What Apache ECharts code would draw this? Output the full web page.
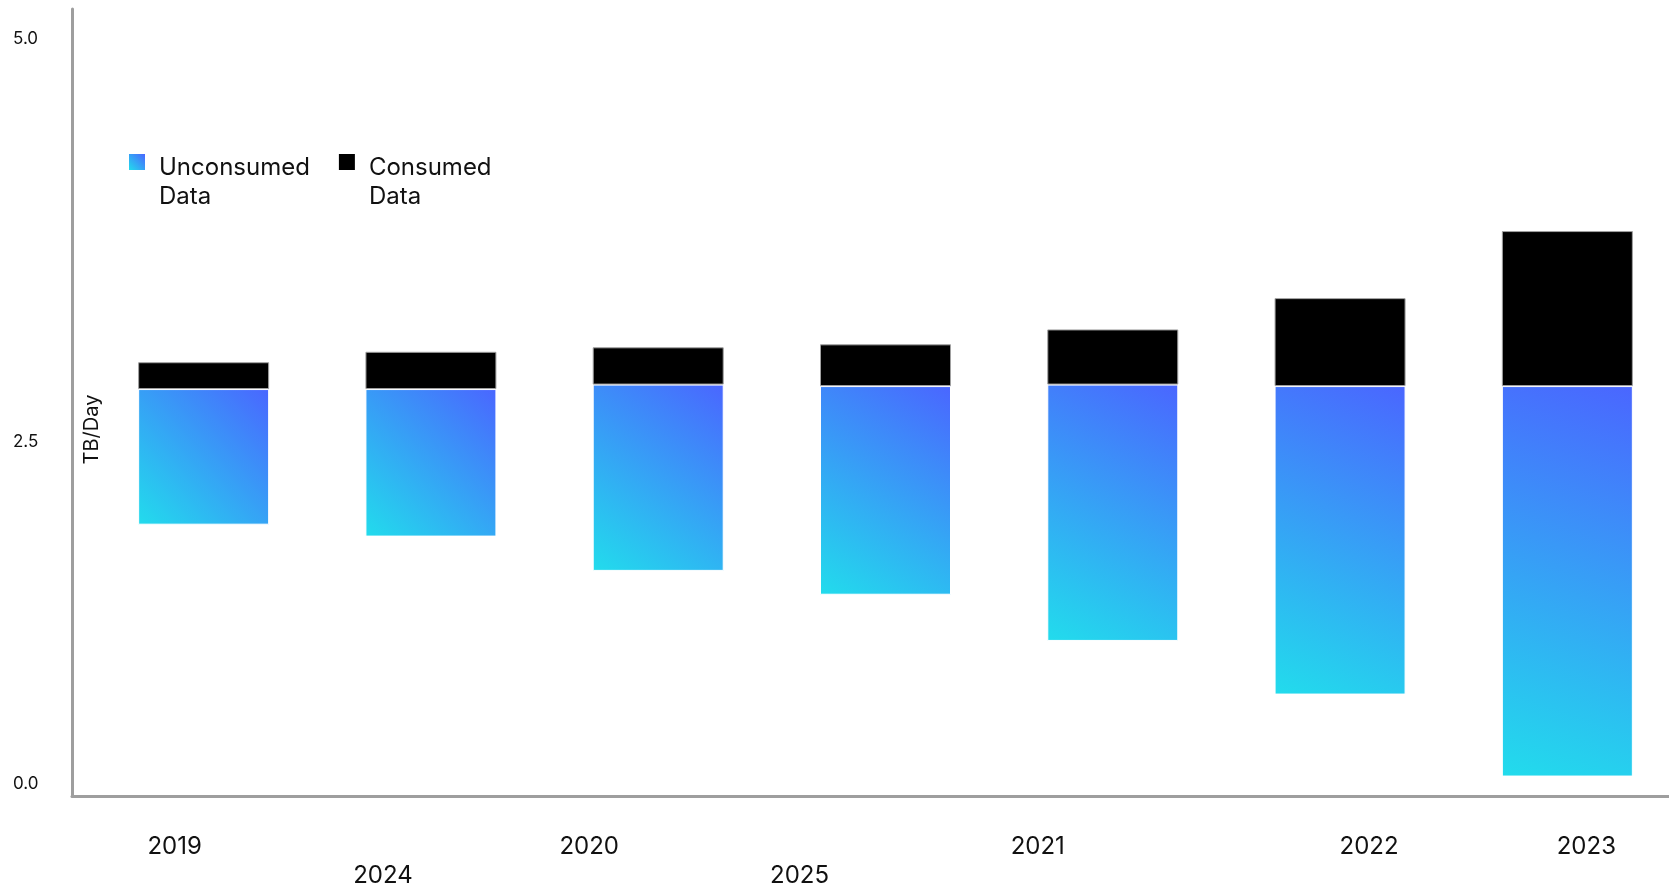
<!DOCTYPE html>
<html>
<head>
<meta charset="utf-8">
<script src="https://cdn.jsdelivr.net/npm/echarts@6/dist/echarts.min.js"></script>
<style>
  html, body { margin: 0; padding: 0; background: #fff; }
  #chart { width: 1669px; height: 888px; }
</style>
</head>
<body>
<div id="chart"></div>
<script>
// categories as they read left to right under the bars
const years = ['2019', '2024', '2020', '2025', '2021', '2022', '2023'];
// bars float: invisible offset, then unconsumed, then consumed on top (TB/day)
const floatBase = [1.74, 1.66, 1.43, 1.27, 0.96, 0.60, 0.05];
const unconsumed = [0.91, 0.99, 1.25, 1.40, 1.72, 2.07, 2.62];
const consumed = [0.18, 0.25, 0.25, 0.28, 0.37, 0.59, 1.04];
const yTickLabels = [0, 2.5, 5];

// label placement tweaks (dx in px, row 0/1)
const labelShift = {
  '2019': [-29, 0], '2024': [-48, 1], '2020': [-69, 0], '2025': [-86, 1],
  '2021': [-75, 0], '2022': [29, 0], '2023': [19, 0]
};

const FONT = 'Inter';
const rich = {};
years.forEach((y, i) => {
  const [dx, row] = labelShift[y];
  rich['k' + i] = {
    fontFamily: FONT, fontSize: 24, lineHeight: 29, color: '#111',
    padding: [row * 58, dx < 0 ? -2 * dx : 0, 0, dx > 0 ? 2 * dx : 0]
  };
});

const blueFill = new echarts.graphic.LinearGradient(0, 1, 1, 0, [
  { offset: 0, color: '#22dcec' },
  { offset: 1, color: '#4a66ff' }
]);

const chart = echarts.init(document.getElementById('chart'));
chart.setOption({
  animation: false,
  backgroundColor: '#fff',
  legend: {
    data: ['Unconsumed Data', 'Consumed Data'],
    left: 129,
    top: 121,
    padding: 0,
    icon: 'rect',
    itemWidth: 16,
    itemHeight: 16,
    itemGap: 29,
    itemStyle: { borderWidth: 0 },
    // spacer line on top so the name's first line sits level with the swatch
    formatter: name => '{s| }\n{t|' + name.replace(' ', '}\n{t|') + '}',
    textStyle: {
      fontFamily: FONT, fontSize: 24, color: '#111',
      padding: [0, 0, 0, 9],
      rich: {
        s: { fontFamily: FONT, fontSize: 24, lineHeight: 41 },
        t: { fontFamily: FONT, fontSize: 24, lineHeight: 29, color: '#111' }
      }
    }
  },
  grid: [
    { left: 90, right: -12, top: 9, bottom: 104, outerBoundsMode: 'none', containLabel: false },
    { left: 72, right: 0, top: 9, bottom: 92, outerBoundsMode: 'none', containLabel: false }
  ],
  xAxis: [
    {
      type: 'category',
      gridIndex: 0,
      data: years,
      axisLine: { show: false },
      axisTick: { show: false },
      axisLabel: {
        margin: 48,
        interval: 0,
        hideOverlap: false,
        formatter: (v, i) => '{k' + i + '|' + v + '}',
        rich: rich
      }
    },
    {
      type: 'value',
      gridIndex: 1,
      axisLine: { show: true, onZero: false, lineStyle: { color: '#9e9e9e', width: 3 } },
      axisTick: { show: false },
      axisLabel: { show: false },
      splitLine: { show: false }
    }
  ],
  yAxis: [
    {
      type: 'value',
      gridIndex: 0,
      min: 0,
      max: 5.2,
      interval: 2.5,
      name: 'TB/Day',
      nameLocation: 'middle',
      nameRotate: 90,
      nameGap: -12,
      nameMoveOverlap: false,
      nameTextStyle: {
        fontFamily: FONT, fontSize: 20, color: '#111', padding: [0, 66, 0, 0]
      },
      axisLine: { show: false },
      axisTick: { show: false },
      splitLine: { show: false },
      axisLabel: {
        align: 'left',
        margin: 77,
        fontFamily: FONT, fontSize: 17, color: '#111',
        formatter: v => {
          if (!yTickLabels.includes(v)) return '';
          return v === 2.5 ? '{d|2.5}' : v.toFixed(1);
        },
        rich: {
          d: { fontFamily: FONT, fontSize: 17, color: '#111', padding: [60, 0, 0, 0] }
        }
      }
    },
    {
      type: 'value',
      gridIndex: 1,
      axisLine: { show: true, onZero: false, lineStyle: { color: '#9e9e9e', width: 3 } },
      axisTick: { show: false },
      axisLabel: { show: false },
      splitLine: { show: false }
    }
  ],
  series: [
    {
      name: 'offset',
      type: 'bar',
      stack: 'tb',
      barWidth: 131,
      silent: true,
      itemStyle: { color: 'transparent' },
      data: floatBase
    },
    {
      name: 'Unconsumed Data',
      type: 'bar',
      stack: 'tb',
      barWidth: 131,
      itemStyle: { color: blueFill, borderColor: '#ffffff', borderWidth: 1 },
      data: unconsumed
    },
    {
      name: 'Consumed Data',
      type: 'bar',
      stack: 'tb',
      barWidth: 131,
      itemStyle: { color: '#000000', borderColor: '#a0a0a0', borderWidth: 1 },
      data: consumed
    }
  ]
});
</script>
</body>
</html>
